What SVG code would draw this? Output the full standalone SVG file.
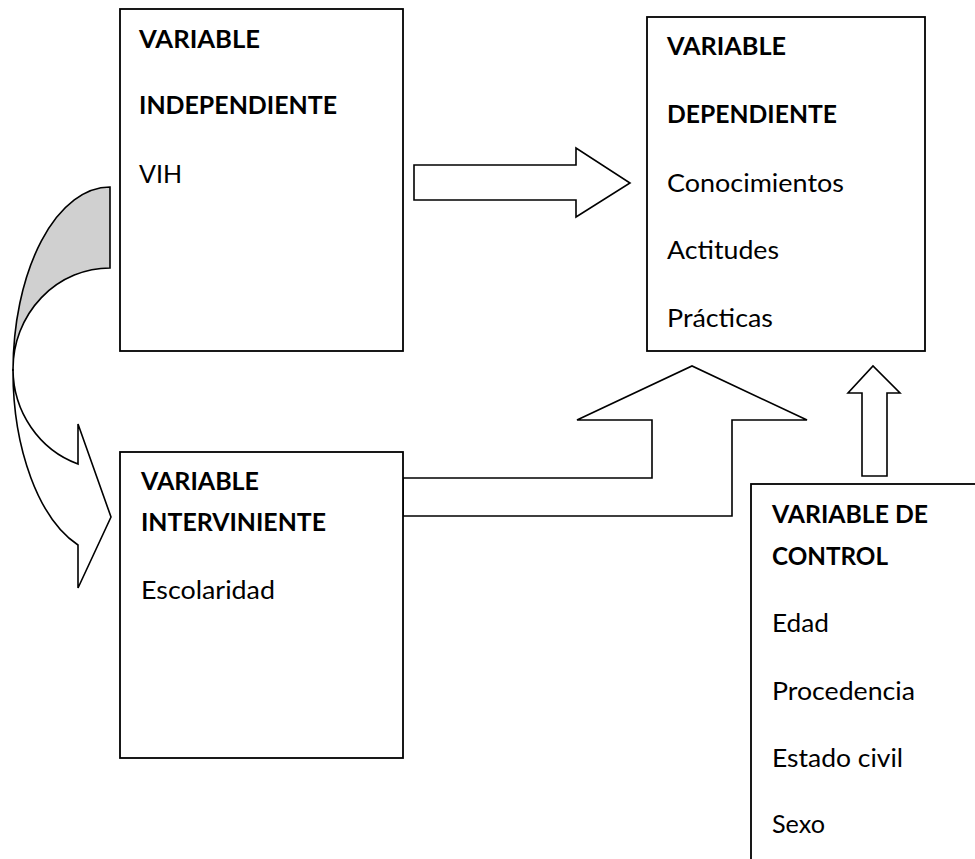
<svg xmlns="http://www.w3.org/2000/svg" width="975" height="859" viewBox="0 0 975 859">
<style>
.box{fill:#fff;stroke:#000;stroke-width:1.8}
.arr{fill:#fff;stroke:#000;stroke-width:1.6;stroke-linejoin:miter}
.back{fill:#d0d0d0;stroke:#000;stroke-width:1.6}
text{font-family:Lato,"Open Sans","Liberation Sans",sans-serif;font-size:25px;fill:#000}
.b{font-weight:bold}
</style>
<rect width="975" height="859" fill="#fff"/>
<g id="connectors">
<path class="back" d="M110,187 A97,184 0 0,0 13,371 L13,369 A97,101 0 0,1 110,268 Z"/>
<path class="arr" d="M13,371 A97,184 0 0,0 78,545 L78,588 L111,517 L78,424 L78,464 A97,101 0 0,1 13,369 Z"/>
<polygon class="arr" points="414,165 576,165 576,148 630,183 576,217 576,200 414,200"/>
<polygon class="arr" points="403,478 652,478 652,420 577,420 692,366 807,420 732,420 732,516 403,516"/>
<polygon class="arr" points="862,476 862,393 848,393 873,366 900,393 887,393 887,476"/>
</g>
<g id="independiente">
<rect class="box" x="120" y="9" width="283" height="342"/>
<text class="b" x="139" y="48" textLength="121" lengthAdjust="spacingAndGlyphs">VARIABLE</text>
<text class="b" x="139" y="114" textLength="198" lengthAdjust="spacingAndGlyphs">INDEPENDIENTE</text>
<text x="139" y="183" textLength="43" lengthAdjust="spacingAndGlyphs">VIH</text>
</g>
<g id="dependiente">
<rect class="box" x="647" y="17" width="278" height="334"/>
<text class="b" x="667" y="55" textLength="119" lengthAdjust="spacingAndGlyphs">VARIABLE</text>
<text class="b" x="667" y="123" textLength="170" lengthAdjust="spacingAndGlyphs">DEPENDIENTE</text>
<text x="667" y="192" textLength="177" lengthAdjust="spacingAndGlyphs">Conocimientos</text>
<text x="667" y="259" textLength="112" lengthAdjust="spacingAndGlyphs">Actitudes</text>
<text x="667" y="327" textLength="106" lengthAdjust="spacingAndGlyphs">Prácticas</text>
</g>
<g id="interviniente">
<rect class="box" x="120" y="452" width="283" height="306"/>
<text class="b" x="141" y="490" textLength="118" lengthAdjust="spacingAndGlyphs">VARIABLE</text>
<text class="b" x="141" y="531" textLength="185" lengthAdjust="spacingAndGlyphs">INTERVINIENTE</text>
<text x="141" y="599" textLength="134" lengthAdjust="spacingAndGlyphs">Escolaridad</text>
</g>
<g id="control">
<rect class="box" x="751" y="484" width="260" height="420"/>
<text class="b" x="772" y="523" textLength="156" lengthAdjust="spacingAndGlyphs">VARIABLE DE</text>
<text class="b" x="772" y="565" textLength="116" lengthAdjust="spacingAndGlyphs">CONTROL</text>
<text x="772" y="632" textLength="57" lengthAdjust="spacingAndGlyphs">Edad</text>
<text x="772" y="700" textLength="143" lengthAdjust="spacingAndGlyphs">Procedencia</text>
<text x="772" y="767" textLength="131" lengthAdjust="spacingAndGlyphs">Estado civil</text>
<text x="772" y="833" textLength="53" lengthAdjust="spacingAndGlyphs">Sexo</text>
</g>
</svg>
